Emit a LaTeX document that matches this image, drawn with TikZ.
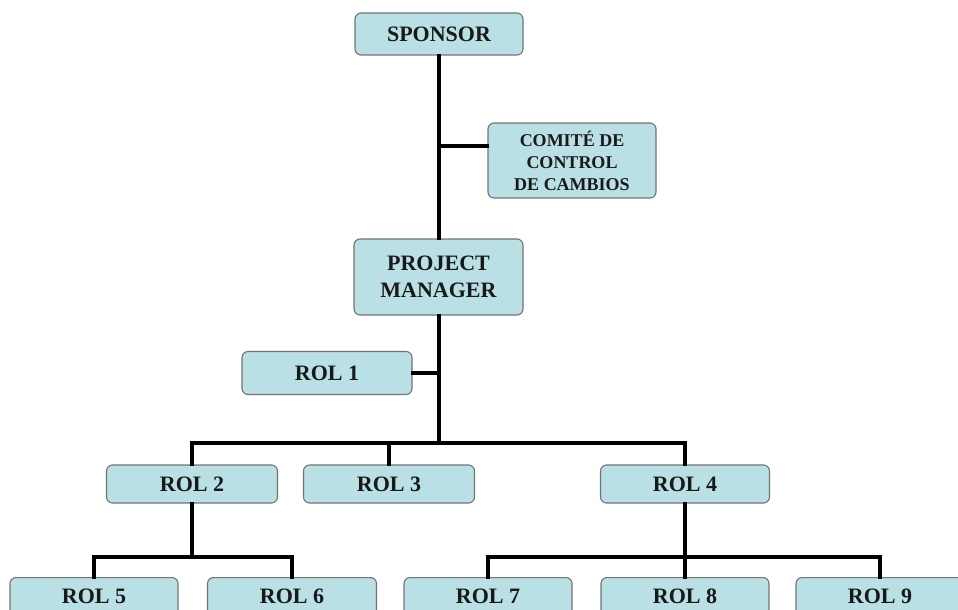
\documentclass[tikz,border=0pt]{standalone}
\usepackage{fontspec}
\setmainfont{Liberation Serif}
\begin{document}
\begin{tikzpicture}[x=1pt,y=-1pt,
  box/.style={draw=black!55, line width=1.1pt, rounded corners=6pt, fill=boxfill,
    minimum width=168pt, minimum height=42pt, inner sep=2pt, align=center,
    font=\fontsize{22}{27}\selectfont\bfseries, text=black!90},
  conn/.style={draw=black, line width=3.2pt, line cap=rect}]
\definecolor{boxfill}{RGB}{185,224,228}
\useasboundingbox (0,0) rectangle (958,610);
\clip (0,0) rectangle (958,610);
% nodes
\node[box] (sp) at (439,34) {SPONSOR};
\node[box, minimum height=75pt, font=\fontsize{18}{22}\selectfont\bfseries] (com) at (572,160.5) {COMITÉ DE\\CONTROL\\DE CAMBIOS};
\node[box, minimum width=169pt, minimum height=76pt] (pm) at (438.5,277) {PROJECT\\MANAGER};
\node[box, minimum width=170pt, minimum height=43pt] (r1) at (327,373) {ROL 1};
\node[box, minimum width=171pt, minimum height=38pt] (r2) at (192,484) {ROL 2};
\node[box, minimum width=171pt, minimum height=38pt] (r3) at (389,484) {ROL 3};
\node[box, minimum width=169pt, minimum height=38pt] (r4) at (685,484) {ROL 4};
\node[box, minimum width=168pt, minimum height=38pt, anchor=north] (r5) at (94,577) {ROL 5};
\node[box, minimum width=169pt, minimum height=38pt, anchor=north] (r6) at (292,577) {ROL 6};
\node[box, minimum width=168pt, minimum height=38pt, anchor=north] (r7) at (488,577) {ROL 7};
\node[box, minimum width=168pt, minimum height=38pt, anchor=north] (r8) at (685,577) {ROL 8};
\node[box, minimum width=168pt, minimum height=38pt, anchor=north] (r9) at (880,577) {ROL 9};
% connectors
\coordinate (cj) at (439,146);
\coordinate (b1) at (439,443);
\coordinate (b2) at (192,557);
\coordinate (b4) at (685,557);
\draw[conn] (sp.south) -- (pm.north -| sp.south);
\draw[conn] (cj) -- (cj -| com.west);
\draw[conn] (pm.south -| b1) -- (b1);
\draw[conn] (r1.east) -- (r1.east -| b1);
\draw[conn] (r2.north) |- (b1) -| (r4.north);
\draw[conn] (r3.north) -- (r3.north |- b1);
\draw[conn] (r2.south) -- (b2);
\draw[conn] (r5.north) |- (b2) -| (r6.north);
\draw[conn] (r4.south) -- (b4);
\draw[conn] (r7.north) |- (b4) -| (r9.north);
\draw[conn] (r8.north) -- (b4);
\end{tikzpicture}
\end{document}
